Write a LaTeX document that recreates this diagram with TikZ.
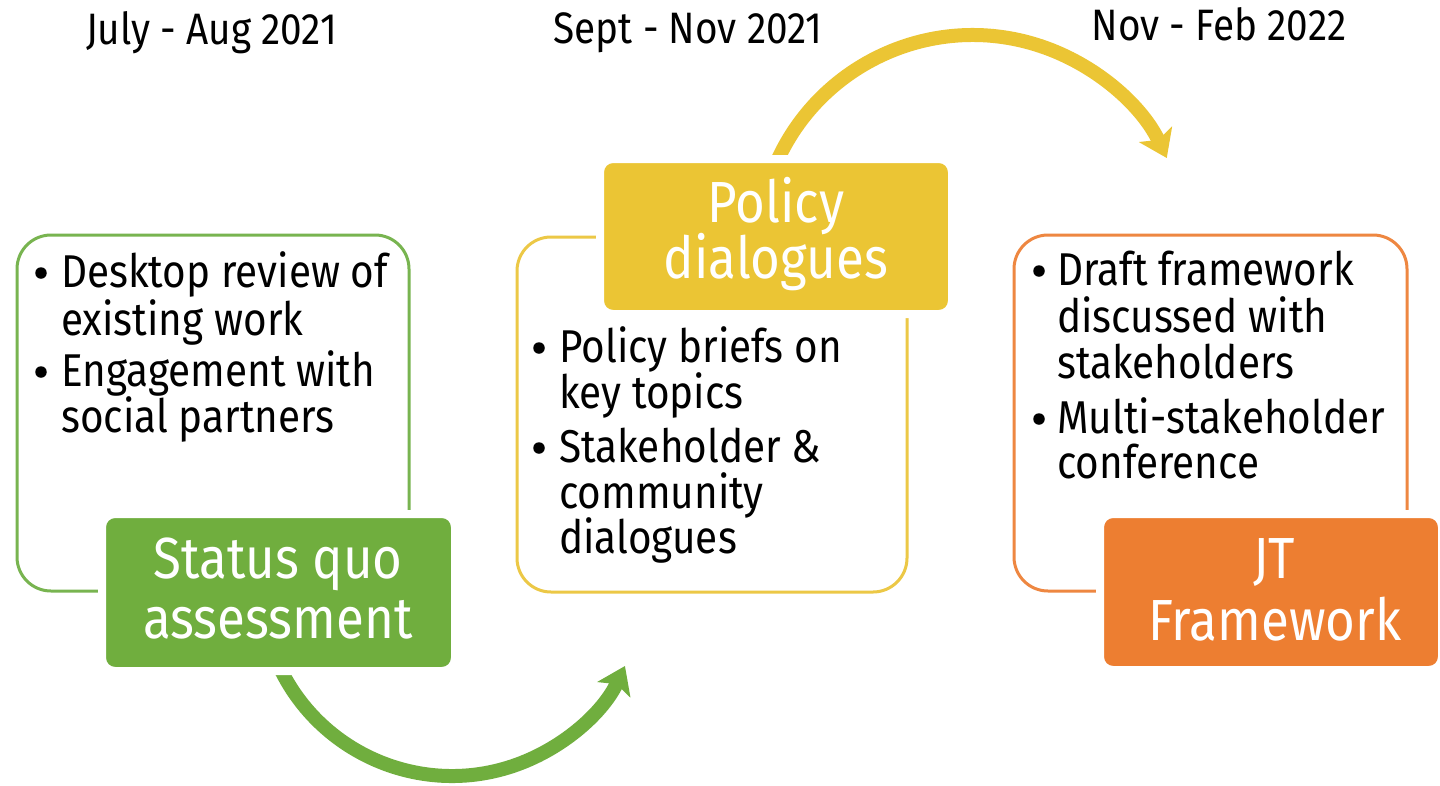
\documentclass[tikz,border=0pt]{standalone}
\usepackage{fontspec}
\setmainfont[FakeStretch=0.88]{Fira Sans}
\usetikzlibrary{arrows.meta}
\definecolor{cgreen}{RGB}{112,174,62}
\definecolor{cgreenl}{RGB}{120,180,80}
\definecolor{cyellow}{RGB}{235,197,52}
\definecolor{cyellowl}{RGB}{236,200,70}
\definecolor{corange}{RGB}{237,126,49}
\definecolor{corangel}{RGB}{238,135,65}
\begin{document}
\begin{tikzpicture}[x=1pt,y=-1pt,
  outlinebox/.style={draw, line width=3pt, rounded corners=34pt, inner sep=0pt, shape=rectangle},
  filledbox/.style={draw=white, line width=8pt, rounded corners=13pt, inner sep=0pt, shape=rectangle},
  bigtext/.style={text=white, inner sep=0pt, anchor=base, font=\fontsize{58}{60}\selectfont},
  itemtext/.style={text=black, inner sep=0pt, anchor=base west, font=\fontsize{46}{47}\selectfont},
  bul/.style={shape=circle, fill=black, inner sep=0pt, minimum size=11.5pt},
  headtext/.style={text=black, inner sep=0pt, anchor=base, font=\fontsize{44}{46}\selectfont},
  arrowline/.style={line width=14pt, -{Stealth[length=26pt,width=36pt,inset=6pt]}}
]
\useasboundingbox[fill=white] (0,0) rectangle (1440,785);

% arrows
\coordinate (ga) at (272.5,650.3);
\draw[arrowline, cgreen] (ga) arc[start angle=160, end angle=25.1, radius=191];
\coordinate (ya) at (770.9,176.3);
\draw[arrowline, cyellow] (ya) arc[start angle=200, end angle=334.7, radius=214.7];

% outline boxes
\node[outlinebox, draw=cgreenl, minimum width=392pt, minimum height=356pt] (gout) at (213,413) {};
\node[outlinebox, draw=cyellowl, minimum width=390pt, minimum height=355pt] (yout) at (712,414.5) {};
\node[outlinebox, draw=corangel, minimum width=393pt, minimum height=356pt] (oout) at (1210.5,413) {};

% filled boxes
\node[filledbox, fill=cgreen, minimum width=353pt, minimum height=157pt] (sq) at (278.5,592.5) {};
\node[filledbox, fill=cyellow, minimum width=352pt, minimum height=155pt] (pd) at (776,236.5) {};
\node[filledbox, fill=corange, minimum width=342pt, minimum height=156pt] (jt) at (1271,592) {};

% titles
\node[bigtext] (sq1) at (278,578) {Status quo};
\node[bigtext] (sq2) at (278,638) {assessment};
\node[bigtext] (pd1) at (776,222) {Policy};
\node[bigtext] (pd2) at (776,278) {dialogues};
\node[bigtext] (jt1) at (1274,578) {JT};
\node[bigtext] (jt2) at (1275,640) {Framework};

% headers
\node[headtext] (h1) at (211.5,44) {July - Aug 2021};
\node[headtext] (h2) at (688,43) {Sept - Nov 2021};
\node[headtext] (h3) at (1219,40) {Nov - Feb 2022};

% green items
\node[bul] (gb1) at (41,273) {};
\node[itemtext] (g1) at (61,287) {Desktop review of};
\node[itemtext] (g2) at (61,335) {existing work};
\node[bul] (gb2) at (41,372) {};
\node[itemtext] (g3) at (61,386) {Engagement with};
\node[itemtext] (g4) at (61,432) {social partners};

% yellow items
\node[bul] (yb1) at (539,348) {};
\node[itemtext] (y1) at (559,362) {Policy briefs on};
\node[itemtext] (y2) at (559,408) {key topics};
\node[bul] (yb2) at (539,448) {};
\node[itemtext] (y3) at (559,462) {Stakeholder \&};
\node[itemtext] (y4) at (559,508) {community};
\node[itemtext] (y5) at (559,553) {dialogues};

% orange items
\node[bul] (ob1) at (1039,271) {};
\node[itemtext] (o1) at (1057,285) {Draft framework};
\node[itemtext] (o2) at (1057,332) {discussed with};
\node[itemtext] (o3) at (1057,378) {stakeholders};
\node[bul] (ob2) at (1039,419) {};
\node[itemtext] (o4) at (1057,433) {Multi-stakeholder};
\node[itemtext] (o5) at (1057,478) {conference};
\end{tikzpicture}
\end{document}
